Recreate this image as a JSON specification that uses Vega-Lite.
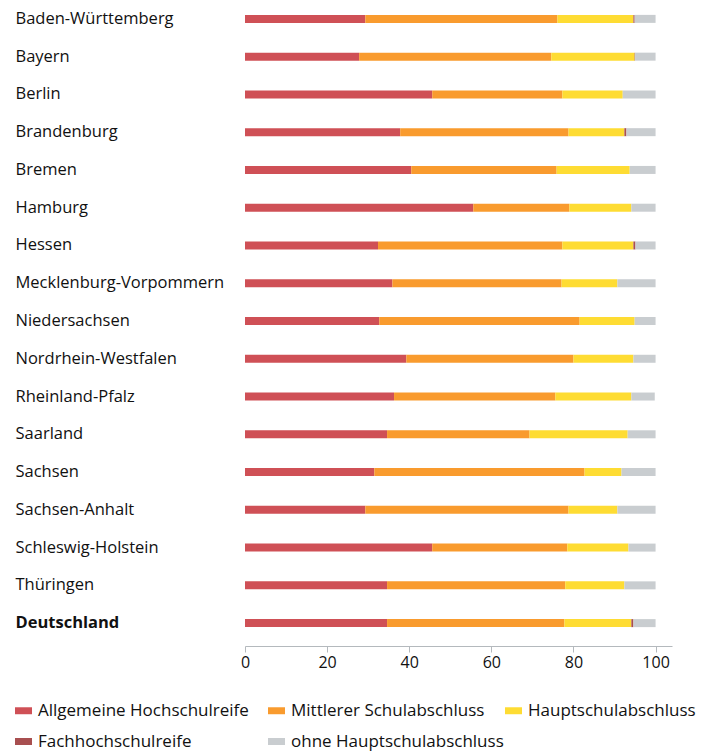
{
  "$schema": "https://vega.github.io/schema/vega-lite/v6.json",
  "width": 427,
  "height": 642,
  "autosize": "none",
  "padding": {"left": 245, "top": 0, "right": 37, "bottom": 109},
  "background": "white",
  "config": {
    "view": {"stroke": null},
    "font": "Open Sans"
  },
  "data": {
    "values": [
      {"Land": "Baden-Württemberg", "Allgemeine Hochschulreife": 29.3, "Mittlerer Schulabschluss": 46.8, "Hauptschulabschluss": 18.5, "Fachhochschulreife": 0.3, "ohne Hauptschulabschluss": 5.1},
      {"Land": "Bayern", "Allgemeine Hochschulreife": 27.8, "Mittlerer Schulabschluss": 46.8, "Hauptschulabschluss": 20.3, "Fachhochschulreife": 0.1, "ohne Hauptschulabschluss": 5.0},
      {"Land": "Berlin", "Allgemeine Hochschulreife": 45.6, "Mittlerer Schulabschluss": 31.7, "Hauptschulabschluss": 14.7, "Fachhochschulreife": 0, "ohne Hauptschulabschluss": 8.0},
      {"Land": "Brandenburg", "Allgemeine Hochschulreife": 37.8, "Mittlerer Schulabschluss": 41.0, "Hauptschulabschluss": 13.6, "Fachhochschulreife": 0.5, "ohne Hauptschulabschluss": 7.1},
      {"Land": "Bremen", "Allgemeine Hochschulreife": 40.5, "Mittlerer Schulabschluss": 35.4, "Hauptschulabschluss": 17.8, "Fachhochschulreife": 0, "ohne Hauptschulabschluss": 6.3},
      {"Land": "Hamburg", "Allgemeine Hochschulreife": 55.6, "Mittlerer Schulabschluss": 23.4, "Hauptschulabschluss": 15.1, "Fachhochschulreife": 0, "ohne Hauptschulabschluss": 5.9},
      {"Land": "Hessen", "Allgemeine Hochschulreife": 32.4, "Mittlerer Schulabschluss": 44.9, "Hauptschulabschluss": 17.3, "Fachhochschulreife": 0.5, "ohne Hauptschulabschluss": 4.9},
      {"Land": "Mecklenburg-Vorpommern", "Allgemeine Hochschulreife": 35.9, "Mittlerer Schulabschluss": 41.2, "Hauptschulabschluss": 13.6, "Fachhochschulreife": 0, "ohne Hauptschulabschluss": 9.3},
      {"Land": "Niedersachsen", "Allgemeine Hochschulreife": 32.7, "Mittlerer Schulabschluss": 48.8, "Hauptschulabschluss": 13.4, "Fachhochschulreife": 0, "ohne Hauptschulabschluss": 5.1},
      {"Land": "Nordrhein-Westfalen", "Allgemeine Hochschulreife": 39.3, "Mittlerer Schulabschluss": 40.7, "Hauptschulabschluss": 14.6, "Fachhochschulreife": 0, "ohne Hauptschulabschluss": 5.4},
      {"Land": "Rheinland-Pfalz", "Allgemeine Hochschulreife": 36.3, "Mittlerer Schulabschluss": 39.3, "Hauptschulabschluss": 18.5, "Fachhochschulreife": 0, "ohne Hauptschulabschluss": 5.7},
      {"Land": "Saarland", "Allgemeine Hochschulreife": 34.6, "Mittlerer Schulabschluss": 34.7, "Hauptschulabschluss": 23.9, "Fachhochschulreife": 0, "ohne Hauptschulabschluss": 6.8},
      {"Land": "Sachsen", "Allgemeine Hochschulreife": 31.5, "Mittlerer Schulabschluss": 51.2, "Hauptschulabschluss": 9.0, "Fachhochschulreife": 0, "ohne Hauptschulabschluss": 8.3},
      {"Land": "Sachsen-Anhalt", "Allgemeine Hochschulreife": 29.3, "Mittlerer Schulabschluss": 49.5, "Hauptschulabschluss": 11.9, "Fachhochschulreife": 0, "ohne Hauptschulabschluss": 9.3},
      {"Land": "Schleswig-Holstein", "Allgemeine Hochschulreife": 45.6, "Mittlerer Schulabschluss": 32.9, "Hauptschulabschluss": 14.9, "Fachhochschulreife": 0, "ohne Hauptschulabschluss": 6.6},
      {"Land": "Thüringen", "Allgemeine Hochschulreife": 34.6, "Mittlerer Schulabschluss": 43.4, "Hauptschulabschluss": 14.4, "Fachhochschulreife": 0, "ohne Hauptschulabschluss": 7.6},
      {"Land": "Deutschland", "Allgemeine Hochschulreife": 34.6, "Mittlerer Schulabschluss": 43.2, "Hauptschulabschluss": 16.3, "Fachhochschulreife": 0.5, "ohne Hauptschulabschluss": 5.4}
    ]
  },
  "transform": [
    {"fold": ["Allgemeine Hochschulreife", "Mittlerer Schulabschluss", "Hauptschulabschluss", "Fachhochschulreife", "ohne Hauptschulabschluss"], "as": ["Typ", "Anteil"]},
    {"calculate": "indexof(['Allgemeine Hochschulreife', 'Mittlerer Schulabschluss', 'Hauptschulabschluss', 'Fachhochschulreife', 'ohne Hauptschulabschluss'], datum.Typ)", "as": "Reihenfolge"}
  ],
  "mark": {"type": "bar", "size": 8},
  "encoding": {
    "y": {
      "field": "Land",
      "type": "nominal",
      "sort": null,
      "scale": {"paddingInner": 0, "paddingOuter": 0},
      "axis": {
        "title": null,
        "domain": false,
        "ticks": false,
        "labelAlign": "left",
        "labelPadding": 230,
        "labelFontSize": 16.5,
        "labelColor": "#111111",
        "labelLimit": 300,
        "labelFontWeight": {"expr": "datum.value === 'Deutschland' ? 'bold' : 'normal'"}
      }
    },
    "x": {
      "field": "Anteil",
      "type": "quantitative",
      "stack": "zero",
      "scale": {"domain": [0, 104], "nice": false, "zero": true},
      "axis": {
        "title": null,
        "values": [0, 20, 40, 60, 80, 100],
        "grid": false,
        "offset": 4,
        "domainColor": "#b4b9bd",
        "tickColor": "#b4b9bd",
        "tickSize": 6,
        "labelFontSize": 16,
        "labelColor": "#111111",
        "labelPadding": 2,
        "labelFlush": false
      }
    },
    "order": {"field": "Reihenfolge", "type": "quantitative", "sort": "ascending"},
    "color": {
      "field": "Typ",
      "type": "nominal",
      "sort": ["Allgemeine Hochschulreife", "Mittlerer Schulabschluss", "Hauptschulabschluss", "Fachhochschulreife", "ohne Hauptschulabschluss"],
      "scale": {
        "domain": ["Allgemeine Hochschulreife", "Mittlerer Schulabschluss", "Hauptschulabschluss", "Fachhochschulreife", "ohne Hauptschulabschluss"],
        "range": ["#cf5056", "#f99b2e", "#fedc33", "#a84f50", "#c9cdd0"]
      },
      "legend": {
        "title": null,
        "orient": "none",
        "legendX": -230,
        "legendY": 702,
        "direction": "horizontal",
        "columns": 3,
        "columnPadding": 1,
        "rowPadding": 13,
        "symbolType": "M-1,-0.41H1V0.41H-1Z",
        "symbolSize": 289,
        "symbolStrokeWidth": 0,
        "labelOffset": 6,
        "labelFontSize": 17,
        "labelColor": "#111111",
        "labelLimit": 400,
        "labelExpr": "datum.label === 'Allgemeine Hochschulreife' ? datum.label + '\u00a0\u00a0\u00a0\u00a0\u200b' : datum.label"
      }
    }
  }
}
